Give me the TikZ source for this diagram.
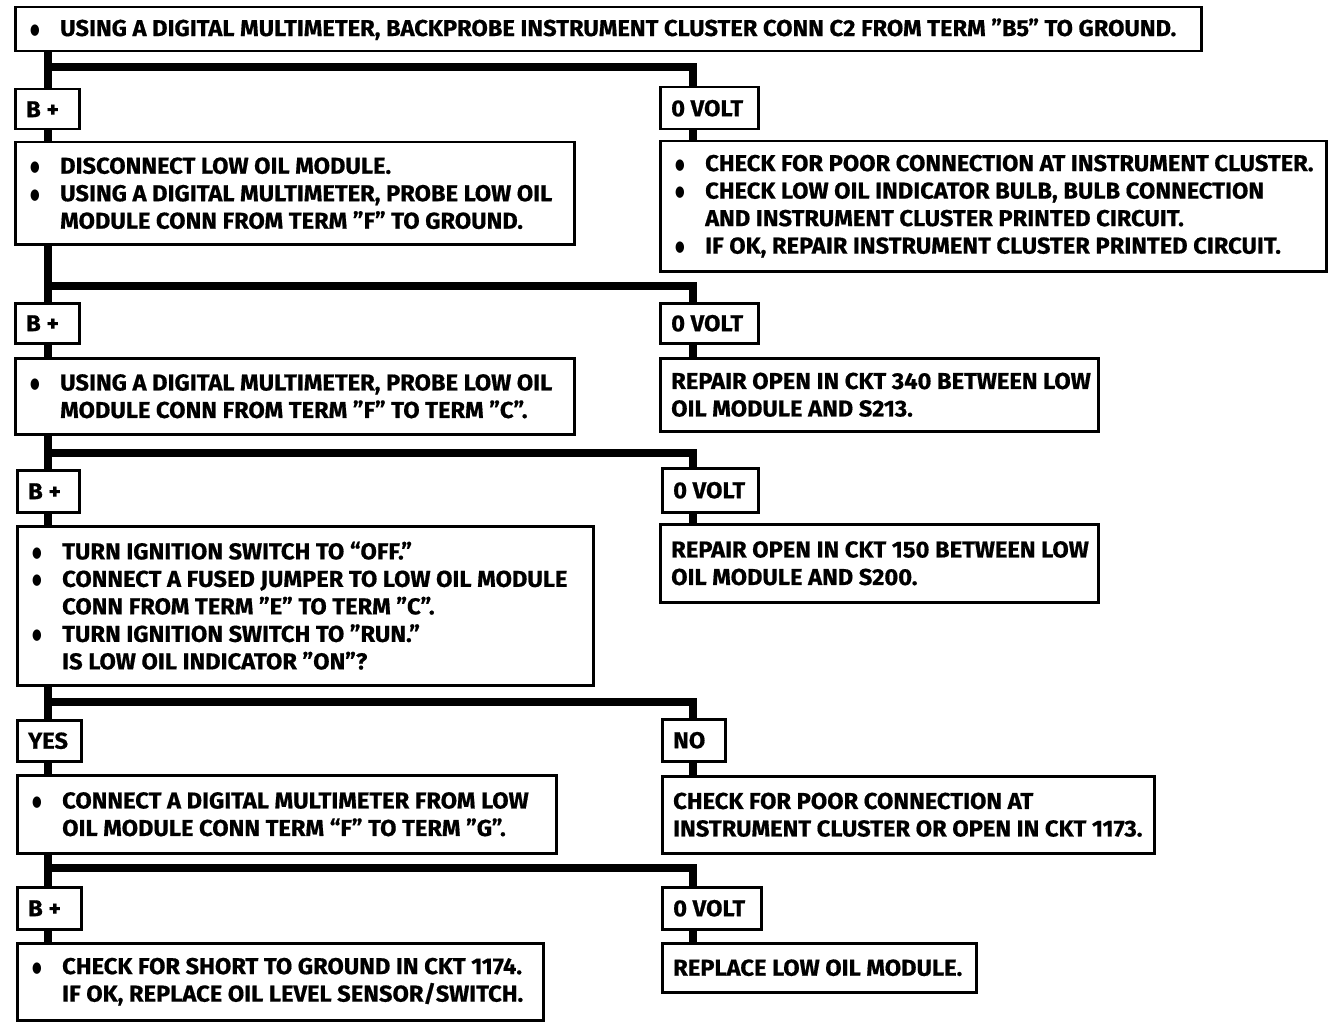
\documentclass[tikz,border=0pt]{standalone}
\usepackage{fontspec}
\usepackage{graphicx}
\setmainfont[FakeStretch=1.03, BoldFeatures={FakeBold=0.6}]{Fira Sans}
\newfontfamily\bulfont{DejaVu Sans}
\newcommand\bul{\makebox[34pt][l]{\hspace{4pt}{\bulfont\fontsize{13}{13}\selectfont\raisebox{2pt}{\scalebox{0.85}[1.15]{●}}}}}
\newcommand\ind{\hspace*{34pt}}
\newcommand\bx[6]{\node[box, minimum width=#4pt, minimum height=#5pt] (#1) at (#2,#3) {};
  \node[txt] (#1t) at ([xshift=12pt]#1.west) {#6};}
\begin{document}
\begin{tikzpicture}[x=1pt,y=-1pt,
  box/.style={draw, line width=2.5pt, anchor=north west, inner sep=0pt},
  txt/.style={anchor=west, inner sep=0pt, align=left, font=\fontsize{23}{27.5}\selectfont\bfseries},
  conn/.style={line width=7.5pt}]
\useasboundingbox (0,0) rectangle (1344,1022);
\coordinate (tx) at (48,0);
\coordinate (rx) at (693,0);
\coordinate (bar1) at (0,67);
\coordinate (bar2) at (0,286);
\coordinate (bar3) at (0,453);
\coordinate (bar4) at (0,702);
\coordinate (bar5) at (0,868);

\bx{top}{14}{6}{1186}{44}{\bul USING A DIGITAL MULTIMETER, BACKPROBE INSTRUMENT CLUSTER CONN C2 FROM TERM ”B5” TO GROUND.}

\bx{lab1L}{14}{88}{64}{40}{B +}
\bx{lab1R}{659}{86}{98}{42}{0 VOLT}
\bx{b1L}{14}{141}{559}{102}{\bul DISCONNECT LOW OIL MODULE.\\ \bul USING A DIGITAL MULTIMETER, PROBE LOW OIL\\ \ind MODULE CONN FROM TERM ”F” TO GROUND.}
\bx{b1R}{659}{140}{666}{130}{\bul CHECK FOR POOR CONNECTION AT INSTRUMENT CLUSTER.\\ \bul CHECK LOW OIL INDICATOR BULB, BULB CONNECTION\\ \ind AND INSTRUMENT CLUSTER PRINTED CIRCUIT.\\ \bul IF OK, REPAIR INSTRUMENT CLUSTER PRINTED CIRCUIT.}

\bx{lab2L}{14}{302}{64}{40}{B +}
\bx{lab2R}{659}{302}{98}{40}{0 VOLT}
\bx{b2L}{14}{357}{559}{76}{\bul USING A DIGITAL MULTIMETER, PROBE LOW OIL\\ \ind MODULE CONN FROM TERM ”F” TO TERM ”C”.}
\bx{b2R}{659}{357}{438}{73}{REPAIR OPEN IN CKT 340 BETWEEN LOW\\ OIL MODULE AND S213.}

\bx{lab3L}{16}{469}{62}{42}{B +}
\bx{lab3R}{661}{467}{96}{44}{0 VOLT}
\bx{b3L}{16}{525}{576}{159}{\bul TURN IGNITION SWITCH TO “OFF.”\\ \bul CONNECT A FUSED JUMPER TO LOW OIL MODULE\\ \ind CONN FROM TERM ”E” TO TERM ”C”.\\ \bul TURN IGNITION SWITCH TO ”RUN.”\\ \ind IS LOW OIL INDICATOR ”ON”?}
\bx{b3R}{659}{523}{438}{78}{REPAIR OPEN IN CKT 150 BETWEEN LOW\\ OIL MODULE AND S200.}

\bx{lab4L}{16}{719}{64}{41}{YES}
\bx{lab4R}{661}{718}{63}{42}{NO}
\bx{b4L}{16}{774}{539}{78}{\bul CONNECT A DIGITAL MULTIMETER FROM LOW\\ \ind OIL MODULE CONN TERM “F” TO TERM ”G”.}
\bx{b4R}{661}{775}{492}{77}{CHECK FOR POOR CONNECTION AT\\ INSTRUMENT CLUSTER OR OPEN IN CKT 1173.}

\bx{lab5L}{16}{886}{64}{42}{B +}
\bx{lab5R}{661}{886}{99}{42}{0 VOLT}
\bx{b5L}{16}{942}{526}{77}{\bul CHECK FOR SHORT TO GROUND IN CKT 1174.\\ \ind IF OK, REPLACE OIL LEVEL SENSOR/SWITCH.}
\bx{b5R}{661}{942}{314}{49}{REPLACE LOW OIL MODULE.}

% trunk
\draw[conn] (top.south -| tx) -- (lab1L.north -| tx);
\draw[conn] (lab1L.south -| tx) -- (b1L.north -| tx);
\draw[conn] (b1L.south -| tx) -- (lab2L.north -| tx);
\draw[conn] (lab2L.south -| tx) -- (b2L.north -| tx);
\draw[conn] (b2L.south -| tx) -- (lab3L.north -| tx);
\draw[conn] (lab3L.south -| tx) -- (b3L.north -| tx);
\draw[conn] (b3L.south -| tx) -- (lab4L.north -| tx);
\draw[conn] (lab4L.south -| tx) -- (b4L.north -| tx);
\draw[conn] (b4L.south -| tx) -- (lab5L.north -| tx);
\draw[conn] (lab5L.south -| tx) -- (b5L.north -| tx);
% branches
\draw[conn] (tx |- bar1) -- (rx |- bar1) -- (lab1R.north -| rx);
\draw[conn] (tx |- bar2) -- (rx |- bar2) -- (lab2R.north -| rx);
\draw[conn] (tx |- bar3) -- (rx |- bar3) -- (lab3R.north -| rx);
\draw[conn] (tx |- bar4) -- (rx |- bar4) -- (lab4R.north -| rx);
\draw[conn] (tx |- bar5) -- (rx |- bar5) -- (lab5R.north -| rx);
\draw[conn] (lab1R.south -| rx) -- (b1R.north -| rx);
\draw[conn] (lab2R.south -| rx) -- (b2R.north -| rx);
\draw[conn] (lab3R.south -| rx) -- (b3R.north -| rx);
\draw[conn] (lab4R.south -| rx) -- (b4R.north -| rx);
\draw[conn] (lab5R.south -| rx) -- (b5R.north -| rx);
\end{tikzpicture}
\end{document}
